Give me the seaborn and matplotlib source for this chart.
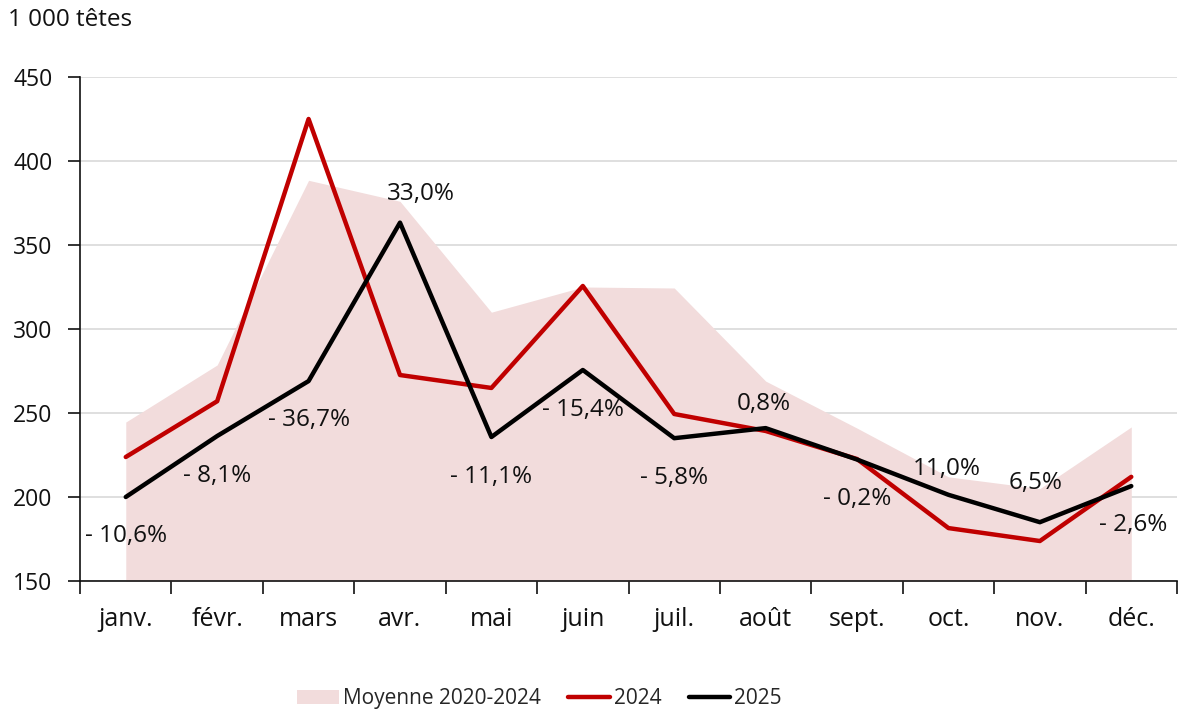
import matplotlib
matplotlib.use("Agg")
import matplotlib.pyplot as plt
import seaborn as sns
import pandas as pd
import numpy as np

months = ["janv.", "févr.", "mars", "avr.", "mai", "juin", "juil.", "août", "sept.", "oct.", "nov.", "déc."]
moyenne = [244.6, 278.6, 388.5, 376, 310, 325, 324.4, 269, 241, 212, 205, 241.7]
v2024 = [223.8, 257, 425, 272.6, 264.9, 325.6, 249.4, 239.3, 222.6, 181.5, 173.8, 212]
v2025 = [200, 236.3, 269, 363.3, 235.7, 275.6, 235, 241, 222.3, 201.3, 185, 206.5]
labels = ["- 10,6%", "- 8,1%", "- 36,7%", "33,0%", "- 11,1%", "- 15,4%", "- 5,8%",
          "0,8%", "- 0,2%", "11,0%", "6,5%", "- 2,6%"]
yticks = [150, 200, 250, 300, 350, 400, 450]

# label offsets (pixels) relative to the 2025 point
lab_dx = [0, 0, 0, 21, 0, 0, 0, -2, 0, -2, -4, 2]
lab_dy = [-39, -40, -39, 29, -40, -40, -40, 24, -39, 26, 39, -39]

sns.set_theme(style="white")
plt.rcParams['font.family'] = ['Open Sans', 'DejaVu Sans']

fig = plt.figure(figsize=(11.79, 7.18), dpi=100)
ax = fig.add_axes([0.0679, 0.1908, 0.9304, 0.702])

x = np.arange(len(months))
df = pd.DataFrame({"x": x, "m": months, "moy": moyenne, "y24": v2024, "y25": v2025})

ax.fill_between(df["x"], 150, df["moy"], color="#f2dcdc", linewidth=0, label="Moyenne 2020-2024", zorder=1)
sns.lineplot(data=df, x="x", y="y24", color="#c00000", linewidth=3.2, ax=ax, label="2024", zorder=3)
sns.lineplot(data=df, x="x", y="y25", color="#000000", linewidth=3.2, ax=ax, label="2025", zorder=4)

for i, lab in enumerate(labels):
    ax.annotate(lab, (x[i], v2025[i]), xytext=(lab_dx[i], lab_dy[i]), textcoords="offset pixels",
                ha="center", va="center", fontsize=17.5, color="#111111", zorder=5)

ax.set_xlim(-0.5, 11.5)
ax.set_ylim(150, 450)
ax.set_yticks(yticks)
ax.set_xticks(x)
ax.set_xticklabels(months)
ax.set_xticks(np.arange(-0.5, 12, 1), minor=True)
ax.tick_params(axis="x", which="major", length=0, pad=19, labelsize=18, labelcolor="#111111")
ax.tick_params(axis="x", which="minor", length=9, width=1.2, color="#111111", direction="out", bottom=True)
ax.tick_params(axis="y", length=9, width=1.2, color="#111111", direction="out", left=True,
               labelsize=16.5, pad=11, labelcolor="#111111")
ax.grid(axis="y", color="#d9d9d9", linewidth=1.2)
ax.set_axisbelow(True)
for s in ["top", "right"]:
    ax.spines[s].set_visible(False)
for s in ["left", "bottom"]:
    ax.spines[s].set_color("#111111")
    ax.spines[s].set_linewidth(1.2)
ax.set_xlabel("")
ax.set_ylabel("")

fig.text(0.007, 0.972, "1 000 têtes", fontsize=17.5, ha="left", va="center", color="#111111")

ax.legend(loc="center", bbox_to_anchor=(0.419, -0.234), ncol=3, frameon=False, fontsize=15,
          handlelength=2.0, handletextpad=0.2, columnspacing=1.3)

fig.savefig("out.png", dpi=100)
